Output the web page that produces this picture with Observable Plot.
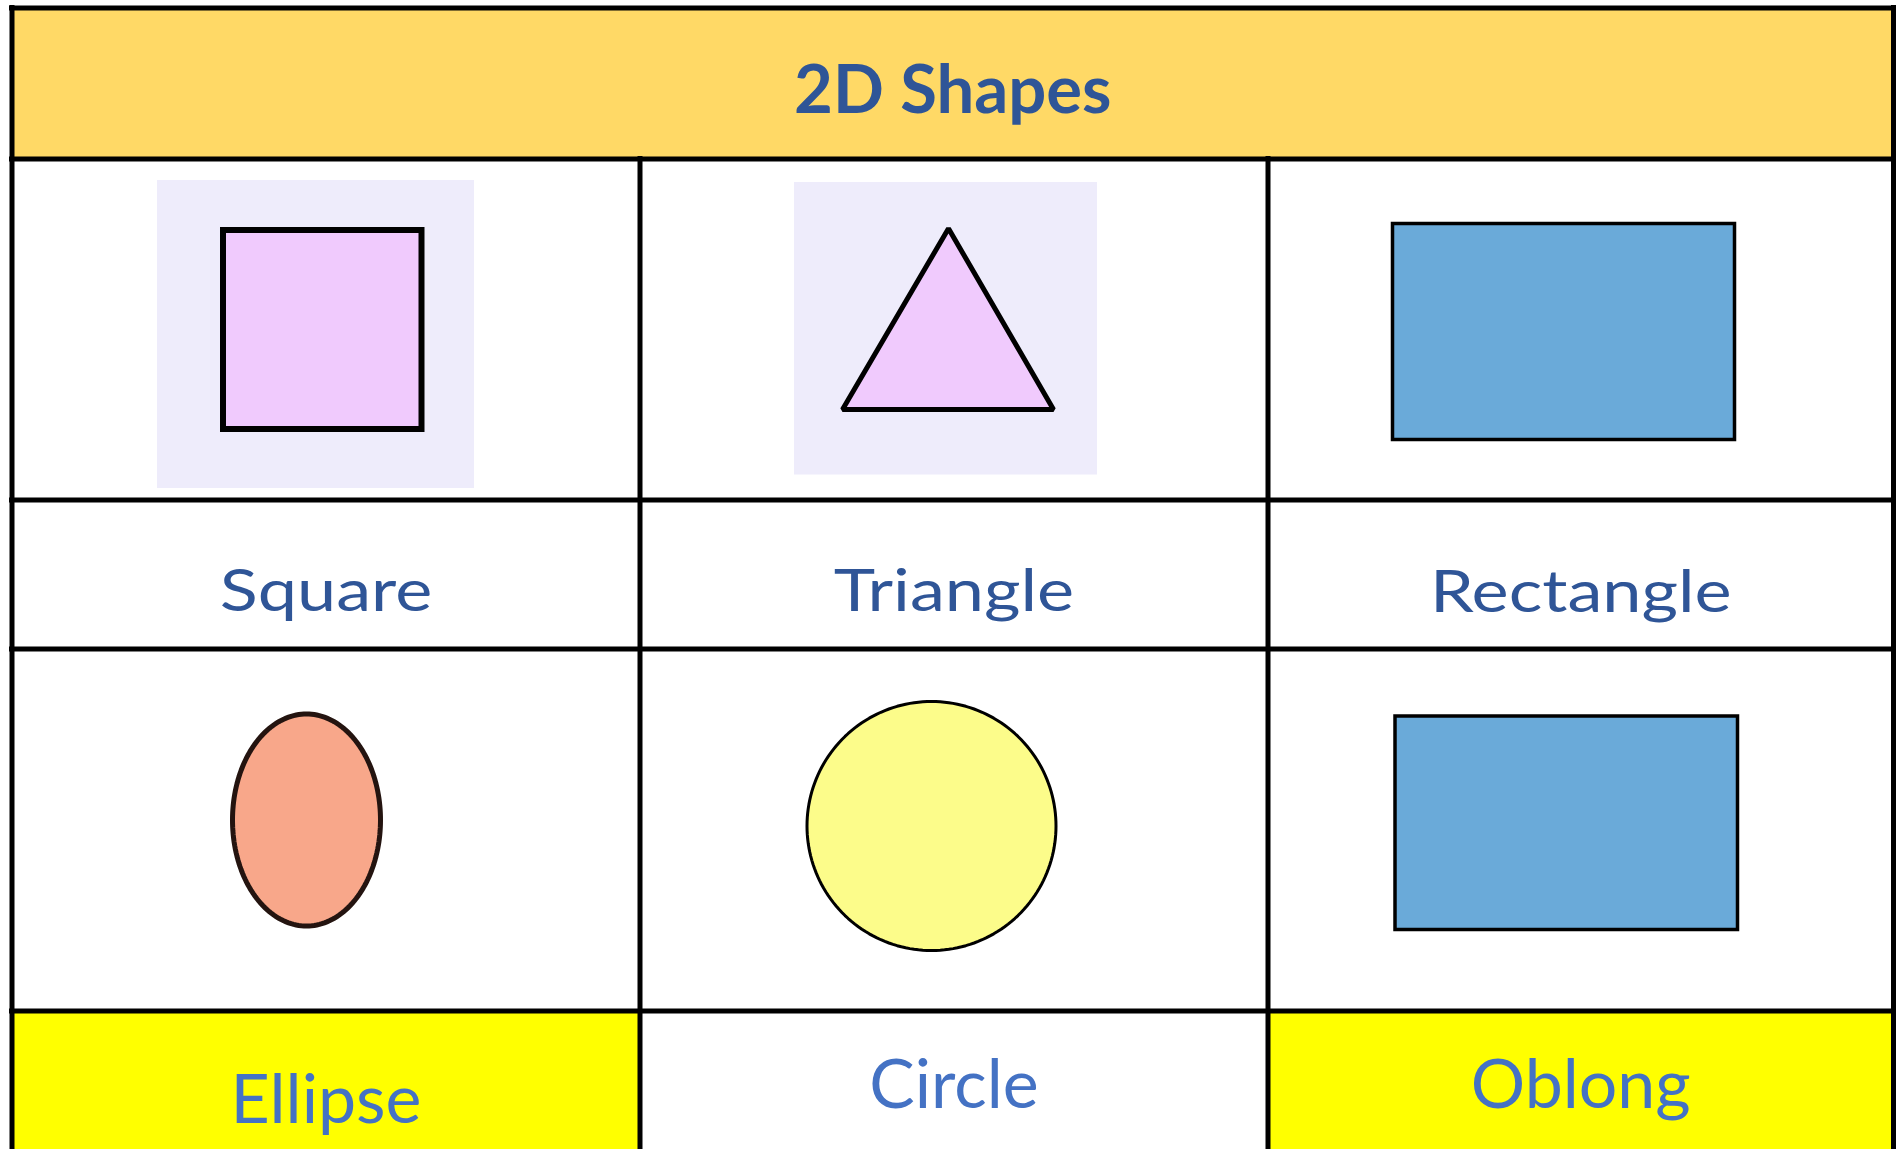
<!DOCTYPE html>
<html>
<head>
<meta charset="utf-8">
<script src="https://cdn.jsdelivr.net/npm/d3@7"></script>
<script src="https://cdn.jsdelivr.net/npm/@observablehq/plot@0.6"></script>
<style>
  html, body { margin: 0; padding: 0; background: #ffffff; overflow: hidden; }
  #chart svg { display: block; }
</style>
</head>
<body>
<div id="chart"></div>
<script>
// ---------------- data ----------------
const title = "2D Shapes";
const shapeNames = ["Square", "Triangle", "Rectangle", "Ellipse", "Circle", "Oblong"];
const shapeKinds = ["square", "triangle", "rectangle", "ellipse", "circle", "rectangle"];
const gridRow = [0, 0, 0, 1, 1, 1];
const gridCol = [0, 1, 2, 0, 1, 2];
const highlightedLabels = ["Ellipse", "Oblong"];

// ---------------- layout (pixels of the 1903 x 1149 page) ----------------
const W = 1903, H = 1149;
const colEdges = [11.5, 639.5, 1267.5, 1893];
const headerBand = [7.5, 158.5];
const rowBands = [
  {pic: [158.5, 499.5], label: [499.5, 648.5]},
  {pic: [648.5, 1010.5], label: [1010.5, H]}
];
const labelBaseline = {Square: 610, Triangle: 610, Rectangle: 611, Ellipse: 1122, Circle: 1107, Oblong: 1107};
const geom = {
  Square:    {bg: [157, 474, 180, 488], box: [223, 421.5, 230, 429], sw: 6},
  Triangle:  {bg: [794, 1097, 182, 474.5], pts: [[948, 228], [1053, 409], [842, 409]], sw: 5},
  Rectangle: {box: [1392.5, 1734.5, 223.5, 439.5], sw: 3.5},
  Ellipse:   {c: [306, 819.5], r: [74, 106], sw: 5},
  Circle:    {c: [931, 825.5], r: [124.5, 124.5], sw: 3},
  Oblong:    {box: [1395, 1737.5, 716, 929.5], sw: 3.5}
};

// ---------------- styles ----------------
const style = {
  header: "#FFD966",
  highlight: "#FFFF00",
  lavender: "#EEECFB",
  grid: "#000000",
  titleColor: "#2F5597",
  label1: "#2F5597",
  label2: "#4472C4",
  font: "Lato, 'Open Sans', sans-serif",
  row1Stretch: 1.19,
  fills: {Square: "#F0CAFD", Triangle: "#F0CAFD", Rectangle: "#6AAAD9", Ellipse: "#F8A78A", Circle: "#FCFC8A", Oblong: "#6AAAD9"},
  strokes: {Square: "#000000", Triangle: "#000000", Rectangle: "#000000", Ellipse: "#241410", Circle: "#000000", Oblong: "#000000"}
};

const cells = shapeNames.map((name, i) => ({name, kind: shapeKinds[i], row: gridRow[i], col: gridCol[i]}));

function ovalPoints(g) {
  const [cx, cy] = g.c, [rx, ry] = g.r;
  return d3.range(0, 360, 2).map(a => {
    const t = a * Math.PI / 180;
    return [cx + rx * Math.cos(t), cy + ry * Math.sin(t)];
  });
}

const marks = [];

// header band
marks.push(Plot.rect([title], {
  x1: () => colEdges[0], x2: () => colEdges[3],
  y1: () => headerBand[0], y2: () => headerBand[1],
  fill: style.header
}));

// highlighted label cells
marks.push(Plot.rect(cells.filter(d => highlightedLabels.includes(d.name)), {
  x1: d => colEdges[d.col], x2: d => colEdges[d.col + 1],
  y1: d => rowBands[d.row].label[0], y2: d => rowBands[d.row].label[1],
  fill: style.highlight
}));

// lavender picture backgrounds
marks.push(Plot.rect(cells.filter(d => geom[d.name].bg), {
  x1: d => geom[d.name].bg[0], x2: d => geom[d.name].bg[1],
  y1: d => geom[d.name].bg[2], y2: d => geom[d.name].bg[3],
  fill: style.lavender
}));

// shapes
for (const d of cells) {
  const g = geom[d.name];
  const common = {fill: style.fills[d.name], stroke: style.strokes[d.name], strokeWidth: g.sw, strokeLinejoin: "miter"};
  if (d.kind === "square" || d.kind === "rectangle") {
    marks.push(Plot.rect([d], {
      x1: () => g.box[0], x2: () => g.box[1], y1: () => g.box[2], y2: () => g.box[3],
      ...common
    }));
  } else if (d.kind === "triangle") {
    marks.push(Plot.line(g.pts, {x: p => p[0], y: p => p[1], curve: "linear-closed", ...common}));
  } else {
    marks.push(Plot.line(ovalPoints(g), {x: p => p[0], y: p => p[1], curve: "linear-closed", ...common}));
  }
}

// grid lines
const hLines = [headerBand[0], headerBand[1], rowBands[0].label[0], rowBands[1].pic[0], rowBands[1].label[0]];
marks.push(Plot.ruleY(hLines, {y: d => d, x1: () => colEdges[0], x2: () => colEdges[3], stroke: style.grid, strokeWidth: 5, strokeLinecap: "square"}));
marks.push(Plot.ruleX([colEdges[0], colEdges[3]], {x: d => d, y1: () => headerBand[0], y2: () => H + 10, stroke: style.grid, strokeWidth: 5, strokeLinecap: "square"}));
marks.push(Plot.ruleX([colEdges[1], colEdges[2]], {x: d => d, y1: () => headerBand[1], y2: () => H + 10, stroke: style.grid, strokeWidth: 5, strokeLinecap: "square"}));

// title
marks.push(Plot.text([title], {
  x: () => (colEdges[0] + colEdges[3]) / 2, y: () => 112,
  text: d => d, lineAnchor: "bottom", textAnchor: "middle",
  fontFamily: style.font, fontWeight: "bold", fontSize: 67, fill: style.titleColor
}));

// labels
marks.push(Plot.text(cells.filter(d => d.row === 0), {
  x: d => (colEdges[d.col] + colEdges[d.col + 1]) / 2, y: d => labelBaseline[d.name],
  text: "name", lineAnchor: "bottom", textAnchor: "middle",
  fontFamily: style.font, fontSize: 59, fill: style.label1
}));
marks.push(Plot.text(cells.filter(d => d.row === 1), {
  x: d => (colEdges[d.col] + colEdges[d.col + 1]) / 2, y: d => labelBaseline[d.name],
  text: "name", lineAnchor: "bottom", textAnchor: "middle",
  fontFamily: style.font, fontSize: 68, fill: style.label2
}));

const chart = Plot.plot({
  width: W, height: H,
  marginTop: 0, marginRight: 0, marginBottom: 0, marginLeft: 0,
  x: {domain: [0, W], range: [0, W], axis: null},
  y: {domain: [0, H], range: [0, H], axis: null},
  style: {background: "#ffffff"},
  marks
});
document.getElementById("chart").appendChild(chart);

// the top-row labels in the original are set wider than their height suggests
const row1Names = new Set(cells.filter(d => d.row === 0).map(d => d.name));
chart.querySelectorAll("text").forEach(t => {
  if (row1Names.has(t.textContent)) {
    const w = t.getComputedTextLength();
    t.setAttribute("textLength", (w * style.row1Stretch).toFixed(1));
    t.setAttribute("lengthAdjust", "spacingAndGlyphs");
  }
});
</script>
</body>
</html>
